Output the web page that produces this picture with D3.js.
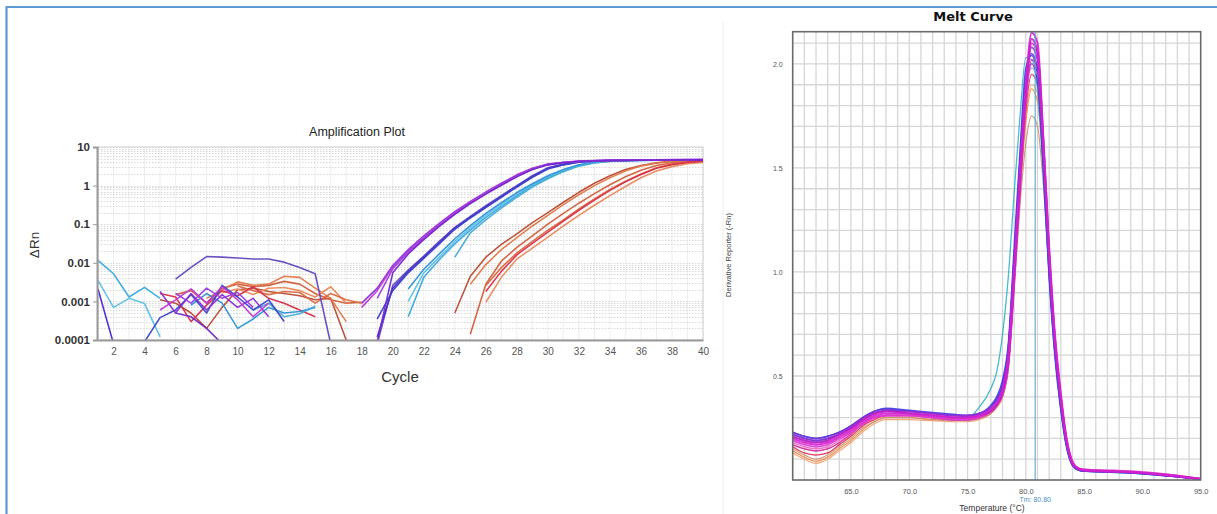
<!DOCTYPE html>
<html><head><meta charset="utf-8">
<script src="https://cdn.jsdelivr.net/npm/d3@7"></script>
<style>body{margin:0;background:#fff}svg{display:block;font-family:"Liberation Sans",Arial,sans-serif}</style>
</head><body><svg id="c" width="1217" height="514"></svg>
<script>
const _ = null;
// ---------- Amplification plot data ----------
const cycles = d3.range(1, 41);
const ampXTicks = [2,4,6,8,10,12,14,16,18,20,22,24,26,28,30,32,34,36,38,40];
const ampYTicks = [10,1,0.1,0.01,0.001,0.0001];
const ampYTickLabels = ["10","1","0.1","0.01","0.001","0.0001"];

const ampO1 = [_,_,_,_,0.0011,0.0009,0.0005,0.0002,0.0007,0.002,0.0022,0.0018,0.0016,0.0014,0.0011,0.0012,0.0001,_,_,_,_,_,_,0.0005,0.0045,0.014,0.03,0.056,0.11,0.2,0.37,0.67,1.15,1.8,2.6,3.3,3.9,4.3,4.5,4.6];
const ampO2 = [_,_,_,_,_,0.0015,0.0019,0.0009,0.0022,0.0028,0.0024,0.0026,0.0033,0.0028,0.0016,0.0011,0.0009,0.00095,_,_,_,_,_,_,0.00014,0.0028,0.011,0.025,0.05,0.1,0.19,0.35,0.62,1.05,1.7,2.5,3.3,3.9,4.3,4.5];
const ampO3 = [_,_,_,_,_,_,_,0.0012,0.002,0.0032,0.0026,0.0028,0.0045,0.0042,0.0022,0.0012,0.0003,_,_,_,_,_,_,_,0.0028,0.009,0.022,0.045,0.09,0.17,0.32,0.58,1.0,1.6,2.4,3.2,3.8,4.2,4.45,4.55];
const ampO4 = [_,_,_,_,_,_,_,_,0.0017,0.0021,0.0015,0.0022,0.0023,0.0019,0.0013,0.0024,0.0009,_,_,_,_,_,_,_,_,0.00095,0.0042,0.0125,0.024,0.046,0.09,0.17,0.31,0.55,0.95,1.6,2.4,3.1,3.7,4.0];
const ampO5 = [_,_,_,_,_,_,_,_,_,0.0025,0.0019,0.0015,0.0018,0.0017,0.0009,0.0016,0.0011,0.0009,_,_,_,_,_,_,_,0.0026,0.0075,0.018,0.036,0.07,0.13,0.25,0.45,0.8,1.3,2.0,2.9,3.6,4.1,4.3];
const ampR1 = [_,_,_,_,0.0016,0.0013,0.0003,0.0008,0.0019,0.0014,0.0024,0.0012,0.0009,0.0006,0.0004,_,_,_,_,_,_,_,_,_,_,0.0018,0.006,0.016,0.032,0.062,0.12,0.23,0.42,0.75,1.25,1.95,2.8,3.5,4.0,4.3];
const ampL1 = [0.0115,0.0052,0.0013,0.0023,0.0012,_,_,_,_,_,_,_,_,_,_,_,_,_,_,_,0.0004,0.0042,0.012,0.031,0.07,0.15,0.29,0.55,1.0,1.6,2.4,3.3,3.9,4.3,4.45,4.5,4.55,4.55,4.6,4.6];
const ampL2 = [0.0035,0.0007,0.0012,0.00088,0.00012,_,_,_,_,_,_,_,_,_,_,_,_,_,_,_,0.001,0.0055,0.014,0.036,0.08,0.17,0.32,0.6,1.05,1.7,2.5,3.4,4.0,4.35,4.5,4.55,4.55,4.6,4.6,4.6];
const ampL3 = [_,_,_,_,_,_,0.0008,0.0016,0.0009,0.0002,0.00035,0.0007,0.0005,0.00055,0.0007,_,_,_,_,_,0.0021,0.0068,0.017,0.042,0.092,0.19,0.36,0.66,1.12,1.8,2.6,3.45,4.0,4.35,4.5,4.55,4.55,4.6,4.6,4.6];
const ampL4 = [_,_,_,_,_,_,_,_,_,_,0.0006,0.0009,0.0004,0.00048,0.00075,_,_,_,_,_,_,_,_,0.014,0.06,0.13,0.26,0.5,0.92,1.5,2.3,3.2,3.85,4.25,4.45,4.5,4.55,4.55,4.6,4.6];
const ampI1 = [_,_,_,_,_,0.0038,0.0076,0.0145,0.014,0.0133,0.0125,0.0125,0.0104,0.0076,0.0052,0.00008,_,_,0.00008,0.0026,0.0065,0.015,0.036,0.083,0.16,0.3,0.55,1.0,1.8,2.9,3.6,4.2,4.4,4.5,4.55,4.6,4.6,4.62,4.65,4.65];
const ampI2 = [0.0021,0.00008,_,_,_,_,_,_,_,_,_,_,_,_,_,_,_,_,0.00012,0.0022,0.006,0.014,0.033,0.078,0.15,0.28,0.52,0.95,1.7,2.8,3.5,4.1,4.35,4.45,4.5,4.55,4.6,4.6,4.62,4.62];
const ampI3 = [_,_,_,0.00009,0.00038,0.0006,0.0015,0.0005,0.0026,0.0013,0.0006,0.0011,0.0003,_,_,_,_,_,0.00035,0.0019,0.0055,0.013,0.031,0.074,0.145,0.27,0.5,0.92,1.65,2.7,3.45,4.05,4.3,4.45,4.5,4.55,4.55,4.6,4.6,4.62];
const ampP1 = [_,_,_,_,0.0018,0.0005,0.0016,0.0006,0.0015,0.0007,0.0012,0.0004,_,_,_,_,_,0.0009,0.0022,0.0085,0.022,0.05,0.105,0.21,0.39,0.68,1.15,1.9,2.8,3.6,4.0,4.3,4.45,4.55,4.6,4.6,4.65,4.7,4.7,4.75];
const ampP2 = [_,_,_,_,0.0006,0.0011,0.0021,0.0009,0.0024,0.0011,0.0004,0.0009,_,_,_,_,_,0.0007,0.0019,0.0078,0.02,0.046,0.098,0.195,0.37,0.65,1.1,1.85,2.75,3.55,3.95,4.25,4.4,4.5,4.55,4.6,4.6,4.65,4.7,4.7];
const ampP3 = [_,_,_,_,_,0.0016,0.0009,0.0022,0.0012,0.0017,0.0007,_,_,_,_,_,_,_,0.0012,0.007,0.019,0.043,0.092,0.185,0.35,0.62,1.05,1.75,2.65,3.5,3.95,4.25,4.4,4.5,4.55,4.6,4.6,4.65,4.65,4.7];
const ampP4 = [_,_,_,_,_,0.0005,0.0004,0.0002,0.00008,_,_,_,_,_,_,_,_,_,0.00009,0.0055,0.017,0.04,0.088,0.18,0.34,0.6,1.02,1.7,2.6,3.45,3.9,4.2,4.35,4.45,4.5,4.55,4.6,4.6,4.65,4.65];

const ampSeriesValues = [ampO1, ampO2, ampO3, ampO4, ampO5, ampR1, ampL1, ampL2, ampL3, ampL4, ampI1, ampI2, ampI3, ampP1, ampP2, ampP3, ampP4];
const ampColors = ["#b84c34","#d2603c","#e27a4a","#ea8a5c","#dc6a42","#d8304a","#3aa8e0","#5cc0e6","#2f92d6","#48acd8","#6448c0","#4a2ad0","#3c44c8","#8a2fd8","#c03ad6","#9d3ee0","#7428cc"];

// ---------- Melt curve data ----------
const temps = [60,61,62,63,64,65,66,67,68,70,72,74,75,76,77,77.5,78,78.5,79,79.5,80,80.5,81,81.5,82,82.5,83,83.5,84,84.5,85,87.5,90,92.5,95];
const meltXTicks = [65,70,75,80,85,90,95];
const meltYTicks = [0.5,1.0,1.5,2.0];
const meltTm = 80.80;

const meltO2 = [0.13,0.10,0.08,0.10,0.14,0.18,0.23,0.27,0.29,0.29,0.285,0.28,0.28,0.29,0.32,0.35,0.40,0.55,0.94,1.38,1.75,1.90,1.86,1.52,1.05,0.67,0.40,0.20,0.09,0.058,0.05,0.044,0.036,0.024,0.006];
const meltO1 = [0.14,0.11,0.09,0.11,0.15,0.19,0.24,0.28,0.30,0.30,0.29,0.29,0.29,0.30,0.32,0.35,0.40,0.54,0.93,1.36,1.72,1.88,1.82,1.50,1.04,0.66,0.40,0.20,0.09,0.058,0.05,0.044,0.036,0.024,0.006];
const meltBr = [0.15,0.12,0.10,0.12,0.16,0.20,0.25,0.28,0.30,0.30,0.29,0.285,0.285,0.295,0.32,0.35,0.40,0.54,0.92,1.32,1.62,1.75,1.70,1.42,1.00,0.64,0.38,0.19,0.085,0.055,0.048,0.042,0.034,0.022,0.005];
const meltR1 = [0.16,0.13,0.12,0.13,0.17,0.21,0.26,0.29,0.31,0.31,0.30,0.29,0.29,0.30,0.33,0.36,0.42,0.56,0.96,1.40,1.78,1.95,1.90,1.55,1.06,0.66,0.39,0.19,0.085,0.055,0.048,0.042,0.034,0.022,0.005];
const meltC1 = [0.21,0.19,0.185,0.195,0.22,0.25,0.29,0.32,0.33,0.32,0.31,0.30,0.30,0.35,0.44,0.52,0.70,0.98,1.38,1.75,2.03,2.02,1.88,1.46,0.96,0.58,0.33,0.15,0.07,0.046,0.042,0.036,0.03,0.018,0.004];
const meltB2 = [0.22,0.20,0.19,0.20,0.22,0.25,0.29,0.32,0.335,0.33,0.32,0.31,0.305,0.315,0.35,0.39,0.46,0.64,1.08,1.54,1.92,2.00,1.92,1.50,0.99,0.61,0.35,0.16,0.07,0.048,0.043,0.038,0.03,0.018,0.004];
const meltB1 = [0.23,0.21,0.20,0.21,0.23,0.26,0.30,0.33,0.345,0.335,0.325,0.315,0.31,0.32,0.36,0.40,0.48,0.66,1.12,1.58,1.98,2.04,1.94,1.50,0.98,0.60,0.34,0.16,0.07,0.048,0.043,0.038,0.03,0.018,0.004];
const meltLP = [0.21,0.19,0.18,0.19,0.22,0.25,0.29,0.32,0.33,0.32,0.31,0.30,0.30,0.31,0.34,0.37,0.43,0.59,1.0,1.46,1.86,1.98,1.95,1.58,1.06,0.65,0.38,0.18,0.08,0.052,0.046,0.041,0.034,0.021,0.005];
const meltPk = [0.18,0.16,0.15,0.16,0.19,0.23,0.27,0.30,0.31,0.31,0.30,0.295,0.295,0.305,0.33,0.36,0.42,0.57,0.97,1.42,1.82,2.00,1.98,1.60,1.10,0.69,0.41,0.20,0.09,0.058,0.052,0.047,0.04,0.026,0.007];
const meltRm = [0.17,0.15,0.14,0.15,0.18,0.22,0.27,0.30,0.31,0.31,0.30,0.29,0.29,0.30,0.33,0.36,0.42,0.57,0.97,1.42,1.83,2.02,1.99,1.60,1.09,0.68,0.40,0.19,0.085,0.054,0.048,0.043,0.035,0.022,0.005];
const meltV1 = [0.23,0.21,0.20,0.21,0.23,0.26,0.30,0.33,0.34,0.33,0.32,0.31,0.31,0.32,0.35,0.39,0.46,0.63,1.06,1.52,1.92,2.05,1.98,1.55,1.02,0.62,0.36,0.17,0.075,0.05,0.044,0.04,0.032,0.02,0.005];
const meltP1 = [0.22,0.20,0.19,0.20,0.22,0.25,0.29,0.32,0.33,0.33,0.32,0.31,0.31,0.32,0.35,0.38,0.44,0.60,1.03,1.50,1.90,2.08,2.02,1.58,1.05,0.64,0.37,0.17,0.075,0.05,0.045,0.04,0.033,0.02,0.005];
const meltM3 = [0.19,0.17,0.16,0.17,0.20,0.23,0.27,0.30,0.31,0.31,0.30,0.29,0.29,0.30,0.33,0.36,0.41,0.55,0.95,1.40,1.82,2.10,2.05,1.63,1.12,0.70,0.42,0.20,0.09,0.056,0.050,0.044,0.036,0.024,0.006];
const meltM2 = [0.21,0.19,0.18,0.19,0.22,0.25,0.29,0.32,0.33,0.32,0.31,0.30,0.30,0.31,0.33,0.36,0.42,0.57,0.98,1.44,1.86,2.12,2.06,1.62,1.08,0.66,0.39,0.18,0.08,0.052,0.046,0.040,0.034,0.020,0.004];
const meltM1 = [0.20,0.18,0.17,0.18,0.21,0.24,0.28,0.31,0.32,0.32,0.31,0.30,0.30,0.31,0.34,0.37,0.43,0.60,1.02,1.48,1.90,2.15,2.10,1.65,1.10,0.68,0.40,0.19,0.08,0.055,0.048,0.042,0.035,0.022,0.005];

const meltSeriesValues = [meltO2, meltO1, meltBr, meltR1, meltC1, meltB2, meltB1, meltLP, meltPk, meltRm, meltV1, meltP1, meltM3, meltM2, meltM1];
const meltColors = ["#f0a070","#f08a40","#c89078","#e02848","#34b4c4","#2850d0","#3a3ae6","#b080e0","#e868c0","#d02a98","#6a34d8","#9030d8","#e038d8","#c41cc4","#d020d0"];
const meltWidths = [1.2,1.2,1.2,1.3,1.3,1.5,1.5,1.4,1.4,1.6,1.6,1.8,2,2,2];

// ---------- Drawing ----------
const svg = d3.select("#c");

svg.append("line").attr("x1",6.5).attr("x2",6.5).attr("y1",6).attr("y2",514).attr("stroke","#5b9bd5").attr("stroke-width",2.2);
svg.append("line").attr("x1",6).attr("x2",1217).attr("y1",7).attr("y2",7).attr("stroke","#5b9bd5").attr("stroke-width",2);
svg.append("line").attr("x1",723).attr("x2",723).attr("y1",22).attr("y2",514).attr("stroke","#ececec").attr("stroke-width",1);

// ===== Amplification plot =====
const ax = d3.scaleLinear().domain([1,40]).range([98,703]);
const ay = d3.scaleLog().domain([0.0001,10]).range([340,147]);
const ag = svg.append("g");
const defs = svg.append("defs");
defs.append("clipPath").attr("id","ampClip").append("rect")
  .attr("x",ax(1)).attr("y",ay(10)).attr("width",ax(40)-ax(1)).attr("height",ay(0.0001)-ay(10));

ag.append("g").selectAll("line").data(cycles).join("line")
  .attr("x1",d=>ax(d)).attr("x2",d=>ax(d)).attr("y1",ay(10)).attr("y2",ay(0.0001))
  .attr("stroke","#efefef").attr("stroke-width",1);
ag.append("g").selectAll("line").data(ay.ticks()).join("line")
  .attr("x1",ax(1)).attr("x2",ax(40)).attr("y1",d=>Math.round(ay(d))+0.5).attr("y2",d=>Math.round(ay(d))+0.5)
  .attr("stroke","#d8d8d8").attr("stroke-width",1).attr("stroke-dasharray","1.5,1.5");
ag.append("rect").attr("x",ax(1)).attr("y",ay(10)).attr("width",ax(40)-ax(1)).attr("height",ay(0.0001)-ay(10))
  .attr("fill","none").attr("stroke","#d0d0d0");

const ampLine = d3.line().defined(d=>d[1]!==null).x(d=>ax(d[0])).y(d=>ay(d[1]));
ag.append("g").attr("clip-path","url(#ampClip)").selectAll("path")
  .data(ampSeriesValues.map((vals,i)=>({vals,color:ampColors[i]})))
  .join("path")
  .attr("d",s=>ampLine(cycles.map((c,j)=>[c,s.vals[j]])))
  .attr("fill","none").attr("stroke",s=>s.color).attr("stroke-width",1.6).attr("stroke-linejoin","round").attr("opacity",0.95);

const axB = ag.append("g").attr("transform",`translate(0,${ay(0.0001)})`)
  .call(d3.axisBottom(ax).tickValues(ampXTicks).tickSize(0).tickPadding(8));
axB.select(".domain").attr("stroke","#9a9a9a").attr("stroke-width",2);
axB.selectAll("text").attr("font-size",10).attr("fill","#555");
const axL = ag.append("g").attr("transform",`translate(${ax(1)-1},0)`)
  .call(d3.axisLeft(ay).tickValues(ampYTicks).tickFormat((d,i)=>ampYTickLabels[i]).tickSize(4).tickPadding(3));
axL.select(".domain").attr("stroke","#9a9a9a").attr("stroke-width",2);
axL.selectAll(".tick line").attr("stroke","#9a9a9a");
axL.selectAll("text").attr("font-size",11.5).attr("font-weight","bold").attr("fill","#333");

ag.append("text").attr("x",357).attr("y",136).attr("text-anchor","middle").attr("font-size",12.5).attr("fill","#222").text("Amplification Plot");
ag.append("text").attr("x",400).attr("y",382).attr("text-anchor","middle").attr("font-size",15).attr("fill","#333").text("Cycle");
ag.append("text").attr("transform","translate(39,245) rotate(-90)").attr("text-anchor","middle").attr("font-size",13.5).attr("fill","#333").text("ΔRn");

// ===== Melt curve =====
const mx = d3.scaleLinear().domain([60,95]).range([792.7,1200.7]);
const my = d3.scaleLinear().domain([0,2.155]).range([480,31.7]);
const mg = svg.append("g");
defs.append("clipPath").attr("id","meltClip").append("rect")
  .attr("x",mx(60)).attr("y",my(2.155)).attr("width",mx(95)-mx(60)).attr("height",my(0)-my(2.155));

mg.append("g").selectAll("line").data(d3.range(61,95)).join("line")
  .attr("x1",d=>mx(d)).attr("x2",d=>mx(d)).attr("y1",my(2.155)).attr("y2",my(0))
  .attr("stroke","#d6d6d6").attr("stroke-width",1.3);
mg.append("g").selectAll("line").data(d3.range(1,22).map(i=>i/10)).join("line")
  .attr("x1",mx(60)).attr("x2",mx(95)).attr("y1",d=>my(d)).attr("y2",d=>my(d))
  .attr("stroke","#d6d6d6").attr("stroke-width",1.3);

const meltLine = d3.line().x(d=>mx(d[0])).y(d=>my(d[1])).curve(d3.curveMonotoneX);
mg.append("g").attr("clip-path","url(#meltClip)").selectAll("path")
  .data(meltSeriesValues.map((vals,i)=>({vals,color:meltColors[i],w:meltWidths[i]})))
  .join("path")
  .attr("d",s=>meltLine(temps.map((t,j)=>[t,s.vals[j]])))
  .attr("fill","none").attr("stroke",s=>s.color).attr("stroke-width",s=>s.w).attr("opacity",0.9);

mg.append("line").attr("x1",mx(meltTm)).attr("x2",mx(meltTm)).attr("y1",my(2.155)).attr("y2",my(0))
  .attr("stroke","#5aa6c8").attr("stroke-width",1.1);

mg.append("rect").attr("x",mx(60)).attr("y",my(2.155)).attr("width",mx(95)-mx(60)).attr("height",my(0)-my(2.155))
  .attr("fill","none").attr("stroke","#6a6a6a").attr("stroke-width",1.6);

const mB = mg.append("g").attr("transform",`translate(0,${my(0)})`)
  .call(d3.axisBottom(mx).tickValues(meltXTicks).tickFormat(d3.format(".1f")).tickSize(0).tickPadding(9));
mB.select(".domain").remove();
mB.selectAll("text").attr("font-size",7.5).attr("fill","#555");
const mL = mg.append("g").attr("transform",`translate(${mx(60)},0)`)
  .call(d3.axisLeft(my).tickValues(meltYTicks).tickFormat(d3.format(".1f")).tickSize(0).tickPadding(10));
mL.select(".domain").remove();
mL.selectAll("text").attr("font-size",7).attr("fill","#555");

mg.append("text").attr("x",973).attr("y",21).attr("text-anchor","middle").attr("font-family","DejaVu Sans").attr("font-weight","bold").attr("font-size",13).attr("fill","#111").text("Melt Curve");
mg.append("text").attr("transform","translate(731,255) rotate(-90)").attr("text-anchor","middle").attr("font-size",7.5).attr("fill","#444").text("Derivative Reporter (-Rn)");
mg.append("text").attr("x",mx(meltTm)).attr("y",502).attr("text-anchor","middle").attr("font-size",7).attr("fill","#4a90c8").text("Tm: " + meltTm.toFixed(2));
mg.append("text").attr("x",992).attr("y",511).attr("text-anchor","middle").attr("font-size",8.5).attr("fill","#333").text("Temperature (°C)");
</script></body></html>
